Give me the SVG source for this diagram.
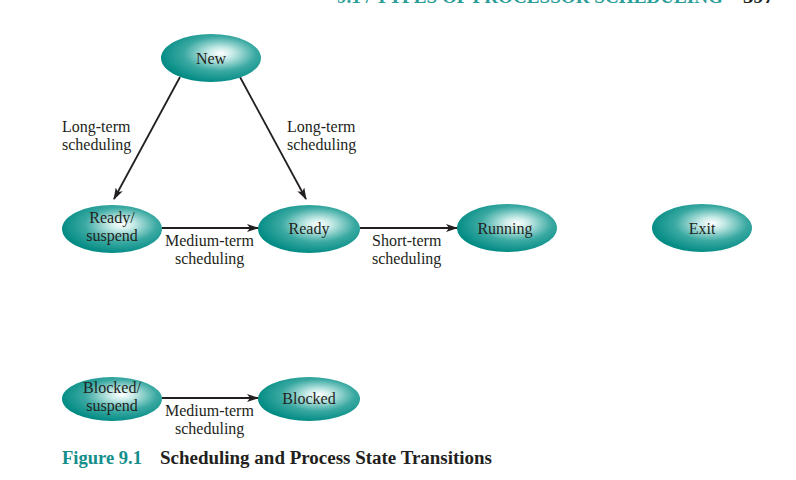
<svg xmlns="http://www.w3.org/2000/svg" width="796" height="480" viewBox="0 0 796 480">
<defs>
<radialGradient id="g" cx="0.58" cy="0.42" r="0.6" fx="0.6" fy="0.4">
<stop offset="0" stop-color="#ffffff"/>
<stop offset="0.2" stop-color="#c8ebe8"/>
<stop offset="0.6" stop-color="#3aa9a2"/>
<stop offset="1" stop-color="#008a83"/>
</radialGradient>
<marker id="ah" viewBox="0 0 12 8" refX="11" refY="4" markerWidth="12" markerHeight="8" markerUnits="userSpaceOnUse" orient="auto">
<path d="M0,0 L12,4 L0,8 L3,4 z" fill="#231f20"/>
</marker>
</defs>
<style>
.n{fill:url(#g);stroke:none}
.t{font-family:"Liberation Serif","Times New Roman",serif;font-size:16px;fill:#231f20}
.c{fill:none;stroke:#231f20;stroke-width:1.8;marker-end:url(#ah)}
.cap{font-family:"Liberation Serif","Times New Roman",serif;font-size:18px;font-weight:bold}
</style>
<rect width="796" height="480" fill="#ffffff"/>
<text x="337" y="3" class="cap" fill="#2a9d97" textLength="386" lengthAdjust="spacingAndGlyphs">9.1 / TYPES OF PROCESSOR SCHEDULING</text>
<text x="743" y="3" class="cap" fill="#231f20" textLength="31" lengthAdjust="spacingAndGlyphs">397</text>
<g id="connectors">
<line class="c" x1="180" y1="77" x2="114" y2="199"/>
<line class="c" x1="240" y1="77" x2="306" y2="199"/>
<line class="c" x1="162" y1="228" x2="258" y2="228"/>
<line class="c" x1="360" y1="228" x2="457" y2="228"/>
<line class="c" x1="162" y1="398" x2="258" y2="398"/>
<text class="t" x="62" y="132">Long-term</text>
<text class="t" x="62" y="150">scheduling</text>
<text class="t" x="287" y="132">Long-term</text>
<text class="t" x="287" y="150">scheduling</text>
<text class="t" x="165" y="246">Medium-term</text>
<text class="t" x="175" y="264">scheduling</text>
<text class="t" x="372" y="246">Short-term</text>
<text class="t" x="372" y="264">scheduling</text>
<text class="t" x="165" y="416">Medium-term</text>
<text class="t" x="175" y="434">scheduling</text>
</g>
<g id="new"><ellipse class="n" cx="211" cy="58" rx="50" ry="24"/><text class="t" x="211" y="64" text-anchor="middle">New</text></g>
<g id="ready-suspend"><ellipse class="n" cx="112" cy="229" rx="50" ry="24"/><text class="t" x="112" y="223" text-anchor="middle">Ready/</text><text class="t" x="112" y="241" text-anchor="middle">suspend</text></g>
<g id="ready"><ellipse class="n" cx="309" cy="229" rx="51" ry="24"/><text class="t" x="309" y="234" text-anchor="middle">Ready</text></g>
<g id="running"><ellipse class="n" cx="507" cy="228" rx="50" ry="24"/><text class="t" x="505" y="234" text-anchor="middle">Running</text></g>
<g id="exit"><ellipse class="n" cx="702" cy="228" rx="50" ry="24"/><text class="t" x="702" y="234" text-anchor="middle">Exit</text></g>
<g id="blocked-suspend"><ellipse class="n" cx="112" cy="399" rx="50" ry="22"/><text class="t" x="112" y="393" text-anchor="middle">Blocked/</text><text class="t" x="112" y="411" text-anchor="middle">suspend</text></g>
<g id="blocked"><ellipse class="n" cx="309" cy="399" rx="51" ry="22"/><text class="t" x="309" y="404" text-anchor="middle">Blocked</text></g>
<text class="cap" x="62" y="464" fill="#138e8a" textLength="80" lengthAdjust="spacingAndGlyphs">Figure 9.1</text>
<text class="cap" x="160" y="464" fill="#231f20" textLength="332" lengthAdjust="spacingAndGlyphs">Scheduling and Process State Transitions</text>
</svg>
